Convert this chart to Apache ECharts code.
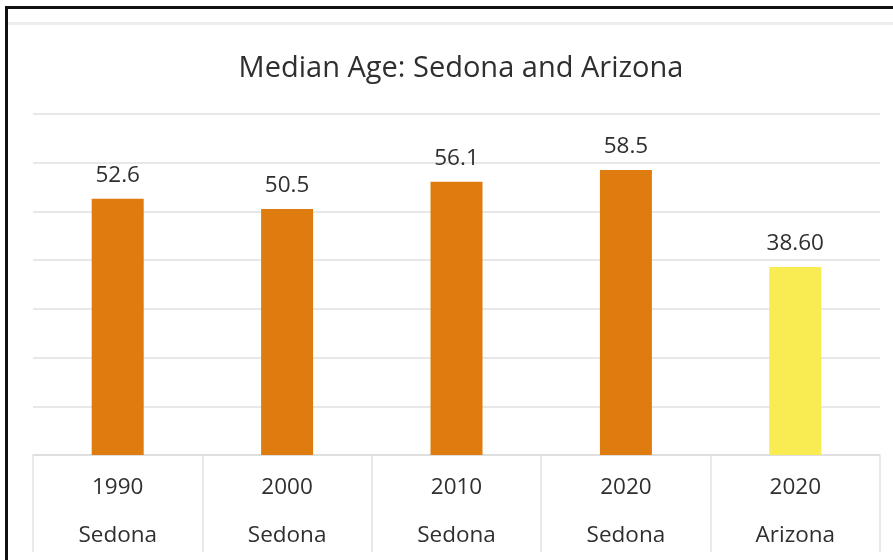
<!DOCTYPE html>
<html>
<head>
<meta charset="utf-8">
<style>
  html, body { margin: 0; padding: 0; background: #ffffff; }
  #chart { width: 893px; height: 560px; }
</style>
<script src="https://cdn.jsdelivr.net/npm/echarts@6/dist/echarts.min.js"></script>
</head>
<body>
<div id="chart"></div>
<script>
// Median age by year and place
const years = ['1990', '2000', '2010', '2020', '2020'];
const places = ['Sedona', 'Sedona', 'Sedona', 'Sedona', 'Arizona'];
const medianAge = [52.6, 50.5, 56.1, 58.5, 38.6];
const valueLabels = ['52.6', '50.5', '56.1', '58.5', '38.60'];
const barColors = ['#df7c0f', '#df7c0f', '#df7c0f', '#df7c0f', '#f8ec52'];

const categories = years.map((y, i) => y + '\n' + places[i]);
const FONT = '"Open Sans", "Noto Sans", sans-serif';
const TEXT = '#2f2f2f';

const chart = echarts.init(document.getElementById('chart'), null, { renderer: 'canvas' });

chart.setOption({
  backgroundColor: '#ffffff',
  animation: false,
  title: {
    text: 'Median Age: Sedona and Arizona',
    left: 456,
    top: 49,
    textAlign: 'center',
    textStyle: { fontFamily: FONT, fontSize: 29, fontWeight: 'normal', color: TEXT }
  },
  grid: { left: 33, right: 13, top: 114, bottom: 104, containLabel: false },
  xAxis: {
    type: 'category',
    data: categories,
    axisLine: { show: true, lineStyle: { color: '#dcdcdc', width: 1.5 } },
    axisTick: { show: true, length: 97, lineStyle: { color: '#e2e2e2', width: 1.5 } },
    axisLabel: {
      margin: 9,
      fontFamily: FONT,
      fontSize: 22.5,
      lineHeight: 48,
      color: TEXT
    }
  },
  yAxis: {
    type: 'value',
    min: 0,
    max: 70,
    interval: 10,
    axisLabel: { show: false },
    axisLine: { show: false },
    axisTick: { show: false },
    splitLine: { show: true, lineStyle: { color: '#e8e8e8', width: 2 } }
  },
  series: [{
    type: 'bar',
    barWidth: 52,
    data: medianAge.map((v, i) => ({ value: v, itemStyle: { color: barColors[i] } })),
    label: {
      show: true,
      position: 'top',
      distance: 12,
      fontFamily: FONT,
      fontSize: 22.5,
      color: TEXT,
      formatter: p => valueLabels[p.dataIndex]
    }
  }],
  graphic: [
    { type: 'rect', shape: { x: 8, y: 22, width: 885, height: 3 }, style: { fill: '#ededed' }, silent: true },
    { type: 'rect', shape: { x: 5, y: 6, width: 888, height: 3 }, style: { fill: '#111111' }, silent: true },
    { type: 'rect', shape: { x: 5, y: 6, width: 3, height: 554 }, style: { fill: '#111111' }, silent: true }
  ]
});
</script>
</body>
</html>
